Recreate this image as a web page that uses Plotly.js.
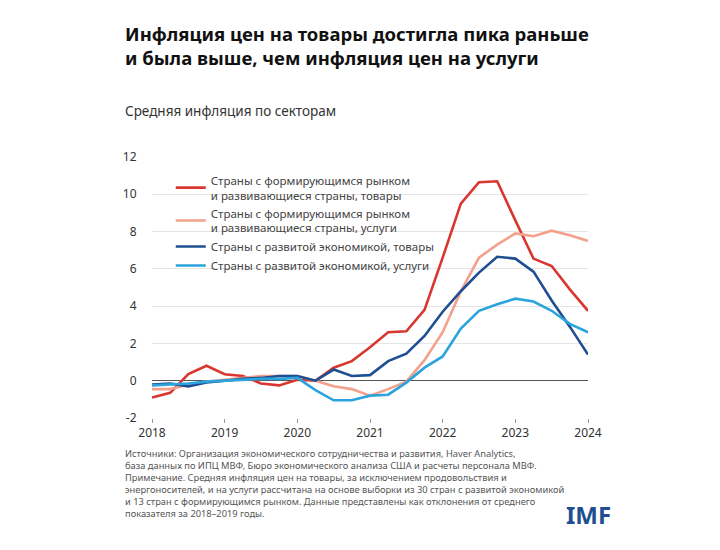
<!DOCTYPE html>
<html>
<head>
<meta charset="utf-8">
<script src="https://cdn.plot.ly/plotly-3.0.1.min.js"></script>
<style>html,body{margin:0;padding:0;background:#fff;}#chart{width:720px;height:550px;}</style>
</head>
<body>
<div id="chart"></div>
<script>
const quarters = [2018, 2018.25, 2018.5, 2018.75, 2019, 2019.25, 2019.5, 2019.75,
  2020, 2020.25, 2020.5, 2020.75, 2021, 2021.25, 2021.5, 2021.75,
  2022, 2022.25, 2022.5, 2022.75, 2023, 2023.25, 2023.5, 2023.75, 2024];

const emGoods = [-0.9, -0.65, 0.35, 0.8, 0.35, 0.25, -0.15, -0.25,
  0.05, 0.0, 0.7, 1.05, 1.8, 2.6, 2.65, 3.8,
  6.6, 9.5, 10.65, 10.7, 8.6, 6.55, 6.15, 4.9, 3.75];

const emServices = [-0.45, -0.45, -0.2, -0.05, 0.05, 0.15, 0.25, 0.25,
  0.25, 0.0, -0.3, -0.45, -0.8, -0.45, -0.05, 1.1,
  2.6, 4.8, 6.6, 7.3, 7.9, 7.75, 8.05, 7.8, 7.5];

const aeGoods = [-0.2, -0.15, -0.3, -0.1, 0.0, 0.1, 0.15, 0.25,
  0.25, 0.0, 0.6, 0.25, 0.3, 1.05, 1.45, 2.4,
  3.7, 4.8, 5.8, 6.65, 6.55, 5.85, 4.3, 2.9, 1.4];

const aeServices = [-0.25, -0.2, -0.15, -0.05, 0.0, 0.05, 0.1, 0.1,
  0.15, -0.5, -1.05, -1.05, -0.8, -0.75, -0.1, 0.7,
  1.3, 2.8, 3.75, 4.1, 4.4, 4.25, 3.75, 3.05, 2.6];

const seriesNames = [
  'Страны с формирующимся рынком<br>и развивающиеся страны, товары',
  'Страны с формирующимся рынком<br>и развивающиеся страны, услуги',
  'Страны с развитой экономикой, товары',
  'Страны с развитой экономикой, услуги'
];
const yTicks = [-2, 0, 2, 4, 6, 8, 10, 12];
const xTicks = [2018, 2019, 2020, 2021, 2022, 2023, 2024];

const colors = ['#d8362f', '#f3a08c', '#1f4f92', '#2ba4de'];
const allSeries = [emGoods, emServices, aeGoods, aeServices];

const traces = allSeries.map((ys, k) => ({
  x: quarters, y: ys, type: 'scatter', mode: 'lines',
  name: seriesNames[k],
  line: {color: colors[k], width: 2.6}
}));

const font = '"Noto Sans", "Open Sans", sans-serif';

const layout = {
  width: 720, height: 550,
  margin: {l: 152, r: 132, t: 157, b: 132},
  paper_bgcolor: '#fff', plot_bgcolor: '#fff',
  font: {family: font, color: '#333', size: 12},
  showlegend: true,
  legend: {
    x: 0.043, y: 0.965, xanchor: 'left', yanchor: 'top',
    bgcolor: 'rgba(0,0,0,0)', font: {size: 11.5, color: '#444', family: font},
    tracegroupgap: 4
  },
  xaxis: {
    range: [2018, 2024], tickvals: xTicks, ticktext: xTicks.map(String),
    showgrid: false, zeroline: false, showline: false,
    ticks: 'outside', ticklen: 4, tickcolor: '#999', tickwidth: 1,
    tickfont: {size: 12, color: '#333'}, fixedrange: true
  },
  yaxis: {
    range: [-2, 12], tickvals: yTicks, ticktext: yTicks.map(String),
    showgrid: true, gridcolor: '#e5e5e5', gridwidth: 1,
    zeroline: true, zerolinecolor: '#555', zerolinewidth: 1.5,
    showline: false, ticks: 'outside', ticklen: 12, tickcolor: 'rgba(0,0,0,0)',
    tickfont: {size: 12, color: '#333'}, fixedrange: true
  },
  shapes: [
    {type: 'rect', xref: 'paper', yref: 'paper', layer: 'between',
     x0: 0.046, x1: 0.588, y0: 0.53, y1: 0.97,
     fillcolor: '#fff', line: {width: 0}}
  ],
  annotations: [
    {text: '<b>Инфляция цен на товары достигла пика раньше<br>и была выше, чем инфляция цен на услуги</b>',
     xref: 'paper', yref: 'paper', x: -0.067, y: 1.53, xanchor: 'left', yanchor: 'top',
     align: 'left', showarrow: false, font: {size: 18.5, color: '#111', family: font}},
    {text: 'Средняя инфляция по секторам',
     xref: 'paper', yref: 'paper', x: -0.067, y: 1.175, xanchor: 'left', yanchor: 'middle',
     align: 'left', showarrow: false, font: {size: 13.5, color: '#333', family: font}},
    {text: 'Источники: Организация экономического сотрудничества и развития, Haver Analytics,<br>' +
           'база данных по ИПЦ МВФ, Бюро экономического анализа США и расчеты персонала МВФ.<br>' +
           'Примечание. Средняя инфляция цен на товары, за исключением продовольствия и<br>' +
           'энергоносителей, и на услуги рассчитана на основе выборки из 30 стран с развитой экономикой<br>' +
           'и 13 стран с формирующимся рынком. Данные представлены как отклонения от среднего<br>' +
           'показателя за 2018–2019 годы.',
     xref: 'paper', yref: 'paper', x: -0.067, y: -0.105, xanchor: 'left', yanchor: 'top',
     align: 'left', showarrow: false, font: {size: 9.3, color: '#555', family: font}},
    {text: '<b>IMF</b>',
     xref: 'paper', yref: 'paper', x: 1.057, y: -0.368, xanchor: 'right', yanchor: 'middle',
     showarrow: false, font: {size: 24, color: '#1f4f92', family: font}}
  ]
};

Plotly.newPlot('chart', traces, layout, {displayModeBar: false, staticPlot: true});
</script>
</body>
</html>
